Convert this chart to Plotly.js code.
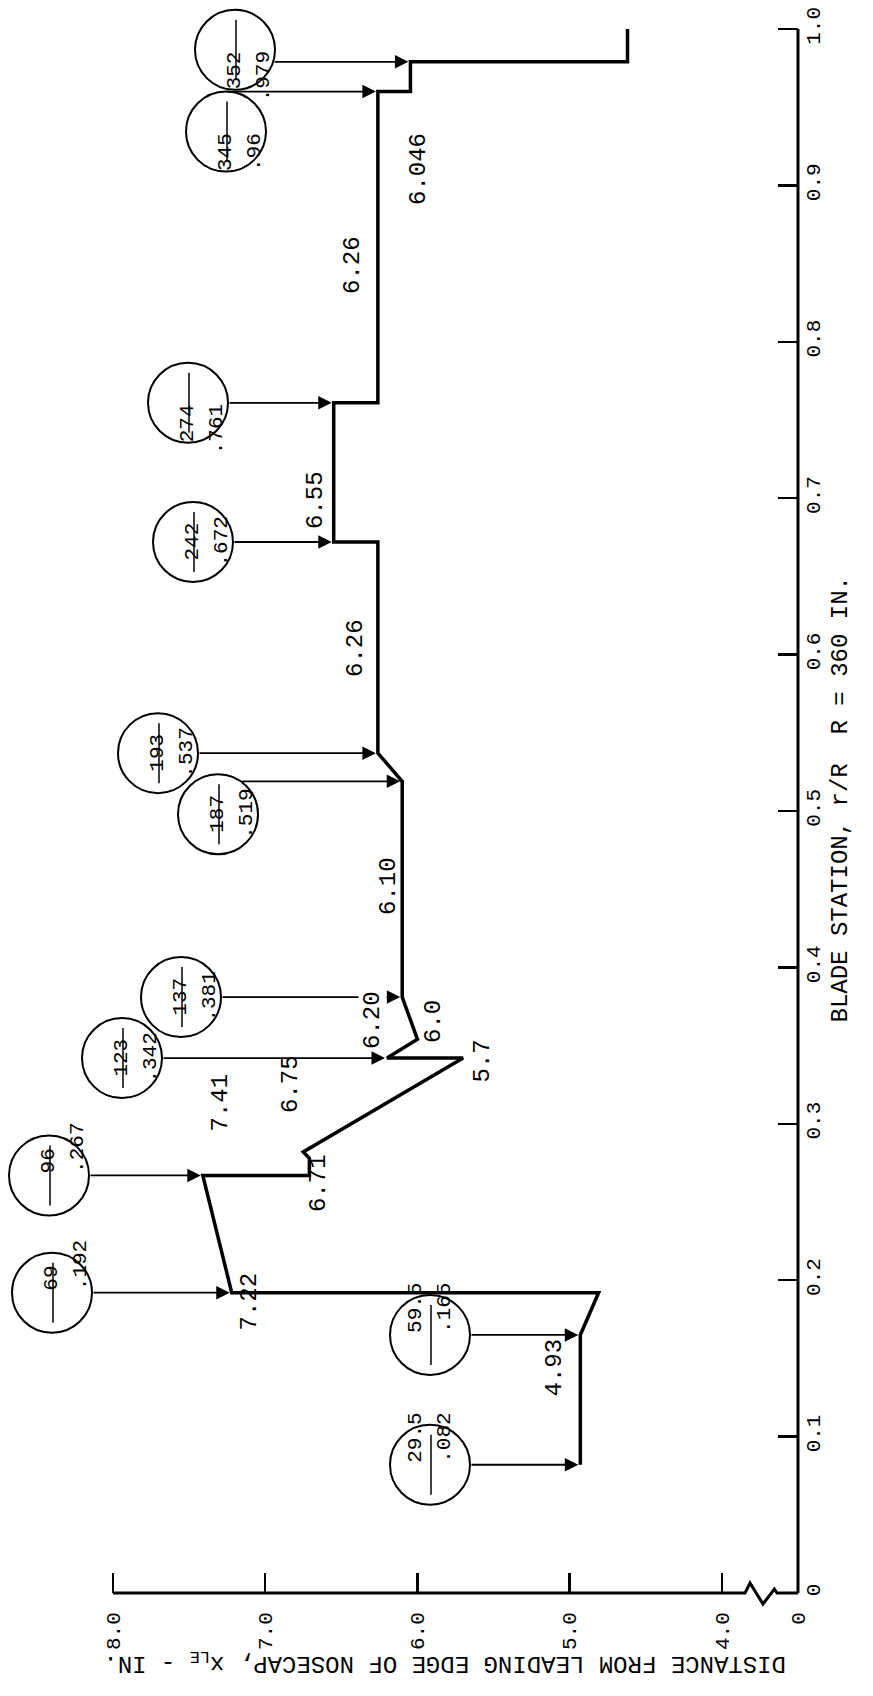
<!DOCTYPE html>
<html>
<head>
<meta charset="utf-8">
<script src="https://cdn.plot.ly/plotly-3.0.1.min.js"></script>
<style>
  html, body { margin: 0; padding: 0; background: #fff; }
  #chart { width: 873px; height: 1696px; }
</style>
</head>
<body>
<div id="chart"></div>
<script>
// leading edge distance x_LE (in.) traced along the blade, station r/R
const pathStation  = [0.082, 0.165, 0.192, 0.192, 0.267, 0.267, 0.278, 0.282, 0.342, 0.342, 0.354, 0.381, 0.519, 0.537, 0.672, 0.672, 0.761, 0.761, 0.96, 0.96, 0.979, 0.979, 1.0];
const pathDistance = [4.93, 4.93, 4.81, 7.22, 7.41, 6.71, 6.71, 6.75, 5.7, 6.20, 6.0, 6.10, 6.10, 6.26, 6.26, 6.55, 6.55, 6.26, 6.26, 6.046, 6.046, 4.62, 4.62];

// circled callouts: radius in inches over r/R
const calloutInches  = ['29.5', '59.5', '69', '96', '123', '137', '187', '193', '242', '274', '345', '352'];
const calloutStation = [0.082, 0.165, 0.192, 0.267, 0.342, 0.381, 0.519, 0.537, 0.672, 0.761, 0.96, 0.979];

// x_LE values printed beside the outline
const valueText = ['4.93', '7.22', '7.41', '6.75', '6.71', '5.7', '6.0', '6.20', '6.10', '6.26', '6.55', '6.26', '6.046'];

const distTicks = [8, 7, 6, 5, 4, 3.5];
const distTickText = ['8.0', '7.0', '6.0', '5.0', '4.0', '0'];
const stationTicks = [0, 0.1, 0.2, 0.3, 0.4, 0.5, 0.6, 0.7, 0.8, 0.9, 1.0];
const stationTickText = ['0', '0.1', '0.2', '0.3', '0.4', '0.5', '0.6', '0.7', '0.8', '0.9', '1.0'];

// ---- page geometry (pixels) ----
const W = 873, H = 1696;
const M = {l: 0, r: 75, t: 0, b: 103};
const plotW = W - M.l - M.r;
const plotH = H - M.t - M.b;
const pxPerInch = 152.22;
const pxPerStation = 1564;
const xRange = [8 + 113 / pxPerInch, 3.5];
const yRange = [0, 1 + 29 / pxPerStation];

const FONT = 'Liberation Mono, Courier New, monospace';

const toPxX = d => M.l + (xRange[0] - d) * pxPerInch;
const toPxY = r => M.t + (yRange[1] - r) * pxPerStation;
const fromPxX = px => xRange[0] - (px - M.l) / pxPerInch;
const paperX = px => (px - M.l) / plotW;
const paperY = py => 1 - (py - M.t) / plotH;

// callout circle centres: x in px, y offset from the arrow in px
const calloutX  = [430, 430, 52, 49, 122, 181, 218, 158, 193, 188, 226, 235];
const calloutDy = [0, 0, 0, 0, 0, 0, 33, 0, 0, 0, 40, -12];
const R = 40;

// label centres in px; only 6.20 knocks out the arrow behind it
const valuePos = [[568, 1398], [234, 1332], [205, 1133], [290, 1114], [318, 1213], [482, 1084],
                  [433, 1022], [372, 1020], [388, 886], [355, 648], [316, 470], [352, 235], [419, 132]];
const valueMask = [0, 0, 0, 0, 0, 0, 0, 1, 0, 0, 0, 0, 0];

const shapes = [];
const annotations = [];
const labels = [];

// arrows from each callout to the outline
calloutStation.forEach((s, i) => {
    let target = -Infinity;
    pathStation.forEach((p, j) => {
        if (Math.abs(p - s) < 1e-6) target = Math.max(target, pathDistance[j]);
    });
    const cx = calloutX[i];
    const ay = toPxY(s);
    const cy = ay + calloutDy[i];
    const dy = ay - cy;
    const edge = cx + Math.sqrt(Math.max(R * R - dy * dy, 0));

    annotations.push({
        xref: 'x', yref: 'y', x: target, y: s,
        axref: 'x', ayref: 'y', ax: fromPxX(edge), ay: s,
        text: '', showarrow: true, arrowhead: 2, arrowsize: 1.5,
        arrowwidth: 1.8, arrowcolor: '#000', standoff: 2
    });

    shapes.push({
        type: 'circle', xref: 'paper', yref: 'paper',
        x0: paperX(cx - R), x1: paperX(cx + R),
        y0: paperY(cy + R), y1: paperY(cy - R),
        line: {color: '#000', width: 2}
    });
    shapes.push({
        type: 'line', xref: 'paper', yref: 'paper',
        x0: paperX(cx + 1), x1: paperX(cx + 1),
        y0: paperY(cy + 30), y1: paperY(cy - 30),
        line: {color: '#000', width: 1.5}
    });
    labels.push({
        xref: 'paper', yref: 'paper', x: paperX(cx - 14), y: paperY(cy),
        text: calloutInches[i], textangle: -90, showarrow: false,
        font: {family: FONT, size: 21, color: '#000'}
    });
    labels.push({
        xref: 'paper', yref: 'paper', x: paperX(cx + 15), y: paperY(cy),
        text: String(s).replace(/^0/, ''), textangle: -90, showarrow: false,
        font: {family: FONT, size: 21, color: '#000'}
    });
});

valueText.forEach((t, i) => {
    const a = {
        xref: 'paper', yref: 'paper', x: paperX(valuePos[i][0]), y: paperY(valuePos[i][1]),
        text: t, textangle: -90, showarrow: false, borderpad: 0,
        font: {family: FONT, size: 24, color: '#000'}
    };
    if (valueMask[i]) a.bgcolor = '#fff';
    labels.push(a);
});

// axis titles
labels.push({
    xref: 'paper', yref: 'paper', x: paperX(855), y: paperY(800),
    text: 'BLADE STATION, r/R  R = 360 IN.', textangle: -90, showarrow: false,
    font: {family: FONT, size: 24, color: '#000'}
});
labels.push({
    xref: 'paper', yref: 'paper', x: paperX(445), y: paperY(1679),
    text: 'DISTANCE FROM LEADING EDGE OF NOSECAP, x<sub>LE</sub> - IN.', textangle: 180, showarrow: false,
    font: {family: FONT, size: 24, color: '#000'}
});

// axis lines: right (r/R) and bottom (x_LE) with a scale break near the corner
const yBase = toPxY(0);
shapes.push({
    type: 'line', xref: 'paper', yref: 'paper',
    x0: paperX(toPxX(3.5)), x1: paperX(toPxX(3.5)),
    y0: paperY(toPxY(0)), y1: paperY(toPxY(1.0)),
    line: {color: '#000', width: 3}
});
const brk = [[3.848, 0], [3.815, -10], [3.73, 11], [3.655, -4], [3.638, 0]];
let d = `M ${paperX(toPxX(8))} ${paperY(yBase)}`;
brk.forEach(([v, off]) => { d += ` L ${paperX(toPxX(v))} ${paperY(yBase + off)}`; });
d += ` L ${paperX(toPxX(3.5))} ${paperY(yBase)}`;
shapes.push({type: 'path', xref: 'paper', yref: 'paper', path: d, line: {color: '#000', width: 3}});

const trace = {
    x: pathDistance, y: pathStation,
    type: 'scatter', mode: 'lines',
    line: {color: '#000', width: 3.5},
    hoverinfo: 'skip'
};

const layout = {
    width: W, height: H,
    margin: M,
    paper_bgcolor: '#fff', plot_bgcolor: '#fff',
    showlegend: false, hovermode: false,
    xaxis: {
        range: xRange, autorange: false,
        tickvals: distTicks, ticktext: distTickText,
        ticks: 'inside', ticklen: 20, tickwidth: 2.5, tickcolor: '#000',
        tickangle: -90, ticklabelstandoff: 14,
        tickfont: {family: FONT, size: 21, color: '#000'},
        showline: false, showgrid: false, zeroline: false
    },
    yaxis: {
        range: yRange, autorange: false, side: 'right',
        tickvals: stationTicks, ticktext: stationTickText,
        ticks: 'inside', ticklen: 20, tickwidth: 2.5, tickcolor: '#000',
        tickangle: -90, tickfont: {family: FONT, size: 21, color: '#000'},
        showline: false, showgrid: false, zeroline: false
    },
    shapes: shapes,
    annotations: annotations.concat(labels)
};

Plotly.newPlot('chart', [trace], layout, {staticPlot: true});
</script>
</body>
</html>
